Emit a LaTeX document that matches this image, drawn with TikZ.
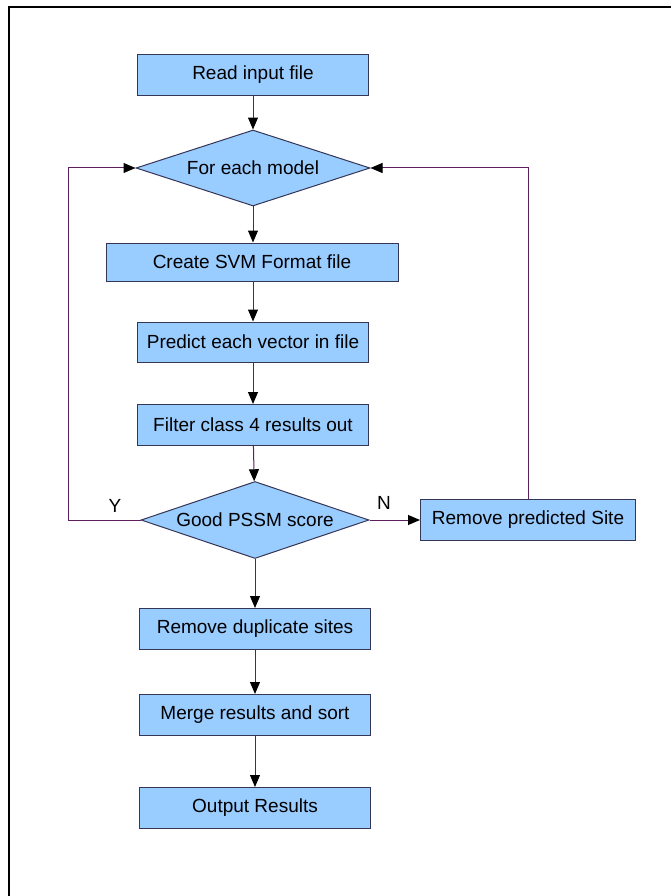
\documentclass[tikz,border=0pt]{standalone}
\usepackage{fontspec}
\setmainfont{Liberation Sans}
\usetikzlibrary{shapes.geometric,arrows.meta,positioning}
\definecolor{boxblue}{HTML}{99CCFF}
\definecolor{boxline}{HTML}{353555}
\definecolor{flowline}{HTML}{5E1F5E}

\tikzset{
    stepbox/.style={draw=boxline, fill=boxblue, line width=1pt, minimum width=231pt, minimum height=41pt, inner sep=0pt, font=\fontsize{19}{23}\selectfont},
    choice/.style={diamond, draw=boxline, fill=boxblue, line width=1pt, inner sep=0pt, aspect=3, font=\fontsize{19}{23}\selectfont},
    flow/.style={draw=flowline, line width=1pt, -{Triangle[color=black, length=12pt, width=10pt]}},
    answer/.style={font=\fontsize{19}{23}\selectfont}
}

\begin{document}
\begin{tikzpicture}[x=1pt, y=-1pt]
\useasboundingbox (0,0) rectangle (670,896);
% outer frame, runs off the page right and bottom
\draw[line width=2.5pt] (9,900) -- (9,7) -- (675,7);

\node[stepbox] (read) at (253,75) {Read input file};
\node[choice, minimum width=234pt, minimum height=76pt] (model) at (253,168) {For each model};
\node[stepbox, minimum width=292pt, minimum height=38pt] (svm) at (252,262) {Create SVM Format file};
\node[stepbox, minimum height=40pt] (predict) at (253,342) {Predict each vector in file};
\node[stepbox] (filter) at (253,425) {Filter class 4 results out};
\node[choice, minimum width=228pt, minimum height=77pt] (pssm) at (255,520) {Good PSSM score};
\node[stepbox, minimum width=215pt] (remsite) at (528,520) {Remove predicted Site};
\node[stepbox] (dupes) at (255,629) {Remove duplicate sites};
\node[stepbox] (merge) at (255,715) {Merge results and sort};
\node[stepbox] (output) at (255,808) {Output Results};

\coordinate (loopL) at (68,0);
\coordinate (loopR) at (528,0);

\draw[flow] (read) -- (model);
\draw[flow] (model) -- (svm.north -| model.south);
\draw[flow] (svm.south -| predict.north) -- (predict);
\draw[flow] (predict) -- (filter);
\draw[flow] (filter) -- (pssm);
\draw[flow] (pssm.east) -- (remsite.west);
\draw[flow] (pssm.west) -| (loopL |- model.west) -- (model.west);
\draw[flow] (remsite.north) |- (model.east);
\draw[flow] (pssm.south) -- (dupes.north -| pssm.south);
\draw[flow] (dupes) -- (merge);
\draw[flow] (merge) -- (output);

\node[answer] (yes) at (115,506) {Y};
\node[answer] (no) at (384,503) {N};
\end{tikzpicture}
\end{document}
